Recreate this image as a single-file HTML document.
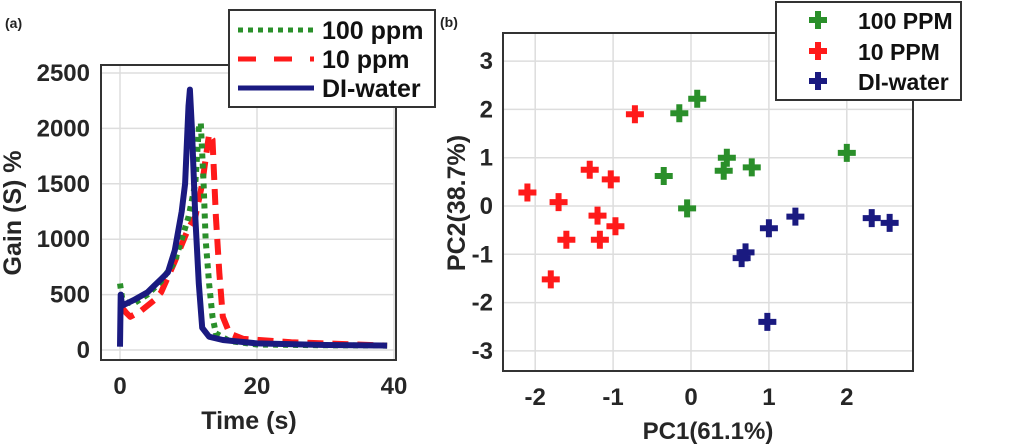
<!DOCTYPE html>
<html><head><meta charset="utf-8">
<style>
body{margin:0;background:#fff;}
svg{display:block;font-family:"Liberation Sans",Arial,sans-serif;font-weight:bold;}
</style></head>
<body>
<svg id="fig" width="1024" height="444" viewBox="0 0 1024 444" xmlns="http://www.w3.org/2000/svg">
<g id="ga"></g>
<g id="gb"></g>
</svg>
<script>
// ---- Chart (a) data ----
const aXTicks = [0, 20, 40];
const aYTicks = [0, 500, 1000, 1500, 2000, 2500];
const diTime = [0,0.1,0.3,2,4,5,6,7,8,9,9.5,10,10.2,10.5,11,11.5,12,13,15,20,30,39];
const diGain = [30,500,400,450,520,580,640,700,900,1250,1500,2200,2350,2000,1200,600,200,120,90,60,45,40];
const g100Time = [0,0.3,1,2,4,6,8,9,10,11,11.5,11.8,12.2,12.5,13,13.5,14,16,20,30,39];
const g100Gain = [600,470,430,420,500,620,800,1000,1200,1500,2000,2050,1500,1000,600,300,150,80,50,42,40];
const g10Time = [0.3,1,1.5,3,5,6,8,10,11,12,13,13.5,14,14.5,15,16,18,25,39];
const g10Gain = [380,330,300,350,450,520,800,1100,1200,1500,1950,1900,1200,700,300,150,100,70,40];

// ---- Chart (b) data ----
const bXTicks = [-2, -1, 0, 1, 2];
const bYTicks = [-3, -2, -1, 0, 1, 2, 3];
const redPC1 = [-2.1,-1.7,-1.6,-1.8,-1.3,-1.2,-1.17,-1.03,-0.97,-0.72];
const redPC2 = [0.28,0.08,-0.7,-1.52,0.75,-0.2,-0.7,0.55,-0.42,1.9];
const greenPC1 = [-0.35,-0.15,0.08,-0.05,0.42,0.46,0.78,2.0];
const greenPC2 = [0.62,1.92,2.22,-0.05,0.73,1.0,0.8,1.1];
const bluePC1 = [0.65,0.7,1.0,1.34,2.32,2.55,0.98];
const bluePC2 = [-1.08,-0.96,-0.46,-0.22,-0.25,-0.35,-2.4];

const NS = "http://www.w3.org/2000/svg";
function mk(parent, tag, attrs, text){
  const e = document.createElementNS(NS, tag);
  for (const k in attrs) e.setAttribute(k, attrs[k]);
  if (text !== undefined) e.textContent = text;
  parent.appendChild(e);
  return e;
}

// ===== Chart (a) =====
const ga = document.getElementById('ga');
const ax = v => 120 + v * (394 - 120) / 40;
const ay = v => 350 - v * (350 - 73) / 2500;
let lab = mk(ga,'text',{x:5,y:28,'font-size':14,fill:'#222'},'(a)');


mk(ga,'rect',{x:101,y:65,width:295,height:295,fill:'#fff'});
aXTicks.forEach(t=>{
  const l = mk(ga,'line',{x1:ax(t),x2:ax(t),y1:65,y2:360,stroke:'#ddd','stroke-width':1.5});
  
  
  const tx = mk(ga,'text',{x:ax(t),y:394,'font-size':24,'text-anchor':'middle',fill:'#262626'},t);
  
  
});
aYTicks.forEach(t=>{
  const l = mk(ga,'line',{x1:101,x2:396,y1:ay(t),y2:ay(t),stroke:'#ddd','stroke-width':1.5});
  
  
  const tx = mk(ga,'text',{x:90,y:ay(t)+8,'font-size':24,'text-anchor':'end',fill:'#262626'},t);
  
  
});
function series(g, xs, ys, color, dash, name, w){
  const d = xs.map((x,i)=>(i?'L':'M')+ax(x).toFixed(1)+','+ay(ys[i]).toFixed(1)).join('');
  const p = mk(g,'path',{d:d,fill:'none',stroke:color,'stroke-width':w,'stroke-dasharray':dash,'stroke-linejoin':'round'});
  
  
}
series(ga,g10Time,g10Gain,'#ff1a1a','16 9','line-10ppm',6);
series(ga,g100Time,g100Gain,'#2a8f2a','5 5','line-100ppm',6);
series(ga,diTime,diGain,'#1a1a80','none','line-di-water',6);
let fr = mk(ga,'rect',{x:101,y:65,width:295,height:295,fill:'none',stroke:'#333','stroke-width':2});


let xt = mk(ga,'text',{x:249,y:429,'font-size':25,'text-anchor':'middle',fill:'#262626'},'Time (s)');


let yt = mk(ga,'text',{x:0,y:0,'font-size':25,'text-anchor':'middle',fill:'#262626',transform:'translate(21,213) rotate(-90)'},'Gain (S) %');


// legend a
const lga = mk(ga,'g',{});


mk(lga,'rect',{x:229,y:10,width:206,height:97,fill:'#fff',stroke:'#333','stroke-width':2});
const legA = [['100 ppm','#2a8f2a','5 5',30],['10 ppm','#ff1a1a','18 18',59],['DI-water','#1a1a80','none',88]];
legA.forEach(e=>{
  mk(lga,'line',{x1:238,x2:314,y1:e[3],y2:e[3],stroke:e[1],'stroke-width':5,'stroke-dasharray':e[2]});
  const t = mk(lga,'text',{x:322,y:e[3]+9,'font-size':25,fill:'#111'},e[0]);
  
  
});

// ===== Chart (b) =====
const gb = document.getElementById('gb');
const bx = v => 691 + v * 77.9;
const by = v => 206 - v * 48.3;
lab = mk(gb,'text',{x:440,y:27,'font-size':14,fill:'#222'},'(b)');


bXTicks.forEach(t=>{
  const l = mk(gb,'line',{x1:bx(t),x2:bx(t),y1:33,y2:371,stroke:'#ddd','stroke-width':1.5});
  
  
  const tx = mk(gb,'text',{x:bx(t),y:405,'font-size':24,'text-anchor':'middle',fill:'#262626'},t);
  
  
});
bYTicks.forEach(t=>{
  const l = mk(gb,'line',{x1:503,x2:913,y1:by(t),y2:by(t),stroke:'#ddd','stroke-width':1.5});
  
  
  const tx = mk(gb,'text',{x:493,y:by(t)+8,'font-size':24,'text-anchor':'end',fill:'#262626'},t);
  
  
});
function cross(g,cx,cy,color,name){
  const p = mk(g,'path',{d:`M${cx-9},${cy}H${cx+9}M${cx},${cy-9}V${cy+9}`,stroke:color,'stroke-width':6,fill:'none'});
  
  
}
redPC1.forEach((v,i)=>cross(gb,bx(v),by(redPC2[i]),'#ff1a1a','point-10ppm'));
greenPC1.forEach((v,i)=>cross(gb,bx(v),by(greenPC2[i]),'#2a8f2a','point-100ppm'));
bluePC1.forEach((v,i)=>cross(gb,bx(v),by(bluePC2[i]),'#1a1a80','point-di-water'));
fr = mk(gb,'rect',{x:503,y:33,width:410,height:338,fill:'none',stroke:'#333','stroke-width':2});


xt = mk(gb,'text',{x:708,y:439,'font-size':24,'text-anchor':'middle',fill:'#262626'},'PC1(61.1%)');


yt = mk(gb,'text',{x:0,y:0,'font-size':25,'text-anchor':'middle',fill:'#262626',transform:'translate(465,203) rotate(-90)'},'PC2(38.7%)');


const lgb = mk(gb,'g',{});


mk(lgb,'rect',{x:776,y:2,width:185,height:98,fill:'#fff',stroke:'#333','stroke-width':2});
const legB = [['100 PPM','#2a8f2a',20],['10 PPM','#ff1a1a',51],['DI-water','#1a1a80',81]];
legB.forEach(e=>{
  cross(lgb,818,e[2],e[1],'legend-marker');
  const t = mk(lgb,'text',{x:858,y:e[2]+9,'font-size':23,fill:'#111'},e[0]);
  
  
});
</script>
</body></html>
